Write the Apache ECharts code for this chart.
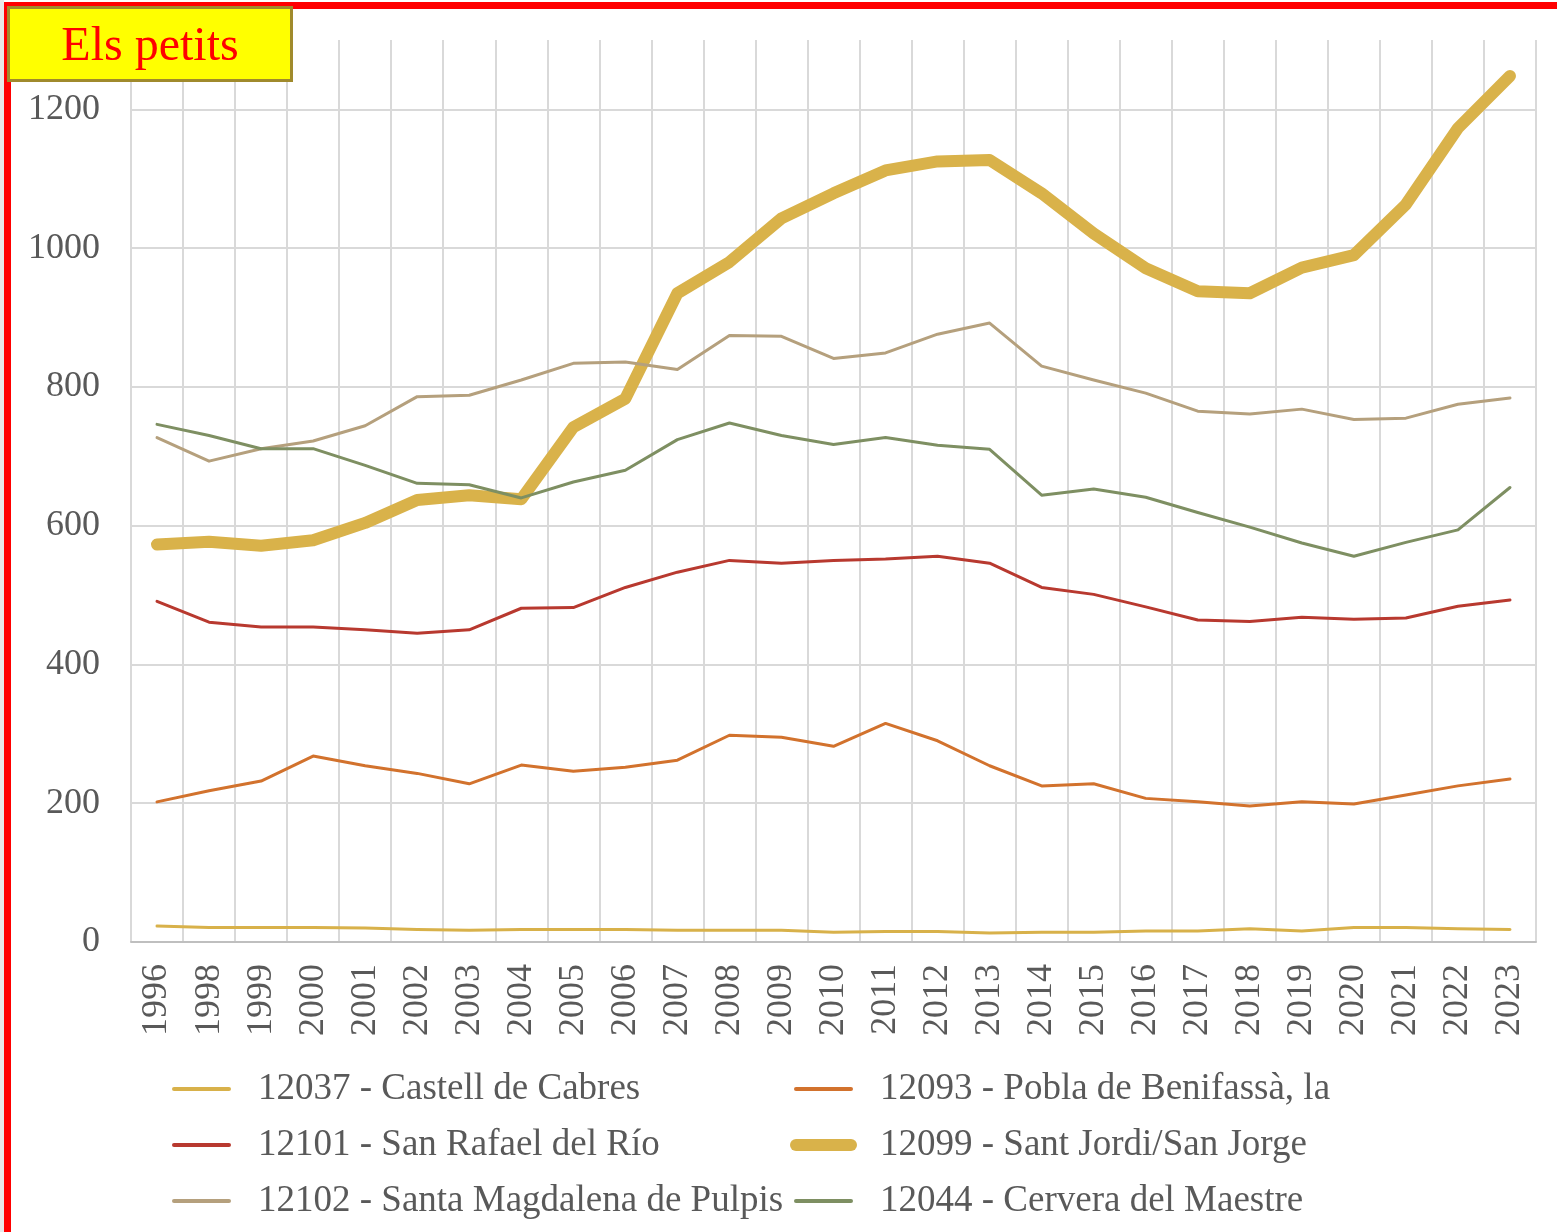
<!DOCTYPE html>
<html>
<head>
<meta charset="utf-8">
<script src="https://cdn.jsdelivr.net/npm/echarts@6/dist/echarts.min.js"></script>
<style>
html,body{margin:0;padding:0;background:#fff;}
#chart{width:1557px;height:1232px;}
</style>
</head>
<body>
<div id="chart"></div>
<script>
const years = ['1996','1998','1999','2000','2001','2002','2003','2004','2005','2006','2007','2008','2009','2010','2011','2012','2013','2014','2015','2016','2017','2018','2019','2020','2021','2022','2023'];
const castellDeCabres = [23,21,21,21,20,18,17,18,18,18,17,17,17,14,15,15,13,14,14,16,16,19,16,21,21,19,18];
const poblaDeBenifassa = [202,218,232,268,254,243,228,255,246,252,262,298,295,282,315,290,254,225,228,207,202,196,202,199,212,225,235];
const sanRafaelDelRio = [491,461,454,454,450,445,450,481,482,511,533,550,546,550,552,556,546,511,501,483,464,462,468,465,467,484,493];
const santJordi = [573,577,571,579,604,637,644,638,742,783,935,980,1043,1079,1112,1125,1127,1079,1021,971,938,935,972,990,1063,1173,1248];
const santaMagdalena = [727,693,711,722,744,786,788,810,834,836,825,874,873,841,849,876,892,830,810,791,765,761,768,753,755,775,784];
const cerveraDelMaestre = [746,730,711,711,687,661,659,640,663,680,724,748,730,717,727,716,710,644,653,641,619,598,575,556,576,594,655];
const yTicks = [0,200,400,600,800,1000,1200];

const names = {
  castell: '12037 - Castell de Cabres',
  pobla: '12093 - Pobla de Benifassà, la',
  rafael: '12101 - San Rafael del Río',
  jordi: '12099 - Sant Jordi/San Jorge',
  magdalena: '12102 - Santa Magdalena de Pulpis',
  cervera: '12044 - Cervera del Maestre'
};
const colors = {
  castell: '#D8B14A', pobla: '#D2722D', rafael: '#B8392F',
  jordi: '#D9B24A', magdalena: '#B5A07D', cervera: '#7E8F62'
};
const FONT = '"Liberation Serif", "Times New Roman", serif';
const TXT = '#595959';

function line(key, data, width) {
  return {
    name: names[key], type: 'line', data: data, symbol: 'none', smooth: false,
    lineStyle: { color: colors[key], width: width, cap: 'round', join: 'round' },
    itemStyle: { color: colors[key] },
    emphasis: { disabled: true }, animation: false
  };
}
function legItem(key, width) {
  return { name: names[key], lineStyle: { color: colors[key], width: width, cap: 'round' }, itemStyle: { opacity: 0 } };
}

const chart = echarts.init(document.getElementById('chart'), null, { renderer: 'canvas' });
const legendCommon = {
  orient: 'vertical', itemWidth: 55, itemHeight: 14, itemGap: 16,
  textStyle: { fontFamily: FONT, fontSize: 37, color: TXT, lineHeight: 40, padding: [0, 0, 0, 24] },
  itemStyle: { opacity: 0 },
  selectedMode: false
};
chart.setOption({
  backgroundColor: '#ffffff',
  animation: false,
  grid: { left: 131, right: 21, top: 40, bottom: 290, containLabel: false },
  xAxis: {
    type: 'category', data: years, boundaryGap: true,
    axisLine: { show: true, lineStyle: { color: '#bfbfbf', width: 2 } },
    axisTick: { show: false },
    splitLine: { show: true, lineStyle: { color: '#d9d9d9', width: 2 } },
    axisLabel: { rotate: 90, interval: 0, margin: 22, fontFamily: FONT, fontSize: 36, color: TXT }
  },
  yAxis: {
    type: 'value', min: 0, max: 1300, interval: 200,
    axisLine: { show: false }, axisTick: { show: false },
    splitLine: { show: true, lineStyle: { color: ['#d9d9d9','#d9d9d9','#d9d9d9','#d9d9d9','#d9d9d9','#d9d9d9','#d9d9d9','rgba(0,0,0,0)'], width: 2 } },
    axisLabel: {
      showMaxLabel: false, margin: 31, fontFamily: FONT, fontSize: 36, color: TXT,
      formatter: function (v) { return yTicks.indexOf(v) >= 0 ? String(v) : ''; }
    }
  },
  legend: [
    Object.assign({ left: 167, top: 1064, data: [legItem('castell', 4), legItem('rafael', 4), legItem('magdalena', 4)] }, legendCommon),
    Object.assign({ left: 785, top: 1064, data: [legItem('pobla', 4), legItem('jordi', 12), legItem('cervera', 4)] }, legendCommon)
  ],
  series: [
    line('castell', castellDeCabres, 3),
    line('pobla', poblaDeBenifassa, 3),
    line('rafael', sanRafaelDelRio, 3),
    line('jordi', santJordi, 12),
    line('magdalena', santaMagdalena, 3),
    line('cervera', cerveraDelMaestre, 3)
  ],
  graphic: [
    { type: 'rect', z: 0, silent: true, shape: { x: 0, y: 0, width: 4, height: 1232 }, style: { fill: '#e8e8e8' } },
    { type: 'rect', z: 100, silent: true, shape: { x: 7.5, y: 5.5, width: 1600, height: 1300 }, style: { fill: 'none', stroke: '#FF0000', lineWidth: 7 } },
    { type: 'rect', z: 101, silent: true, shape: { x: 8.5, y: 7.5, width: 283, height: 73 }, style: { fill: '#FFFF00', stroke: '#A08A2C', lineWidth: 3 } },
    { type: 'text', z: 102, silent: true, x: 150, y: 47, style: { text: 'Els petits', fill: '#FF0000', font: '48px ' + FONT, align: 'center', verticalAlign: 'middle' } }
  ]
});
</script>
</body>
</html>
